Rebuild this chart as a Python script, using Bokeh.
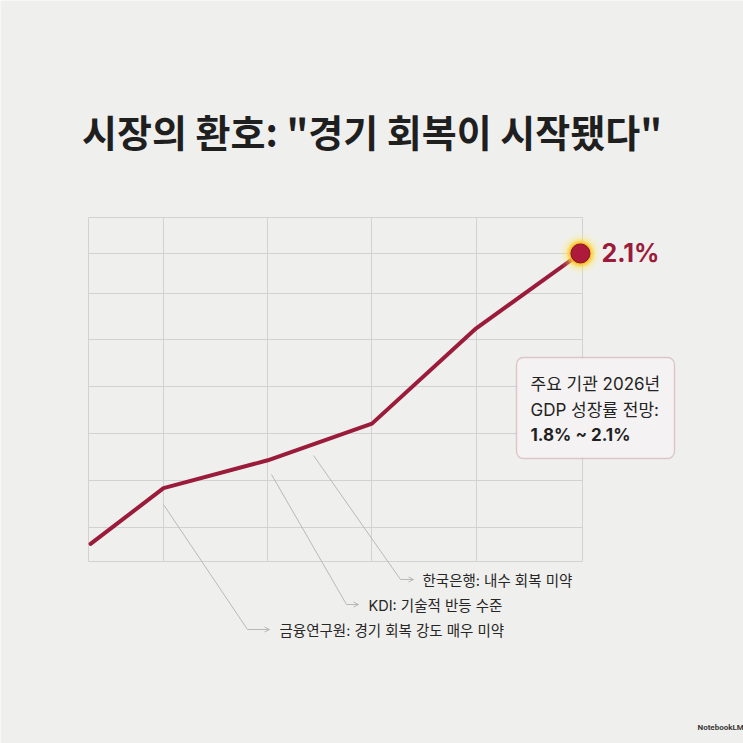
from bokeh.plotting import figure
from bokeh.models import Grid, FixedTicker, BoxAnnotation, Arrow, OpenHead, Range1d
from bokeh.core.properties import value
from bokeh.embed import file_html
from bokeh.resources import INLINE

# ---------------- data ----------------
title_text = '시장의 환호: "경기 회복이 시작됐다"'
x_pos = [0.0, 0.7, 1.7, 2.7, 3.7, 4.7]
growth = [0.12, 0.50, 0.69, 0.94, 1.59, 2.10]
x_grid = [-0.02, 0.7, 1.7, 2.7, 3.7, 4.72]
y_grid = [0.0, 0.23, 0.55, 0.87, 1.19, 1.51, 1.83, 2.10, 2.345]
end_label = "2.1%"
box_lines = ["주요 기관 2026년", "GDP 성장률 전망:", "1.8% ~ 2.1%"]
callout_labels = ["한국은행: 내수 회복 미약", "KDI: 기술적 반등 수준", "금융연구원: 경기 회복 강도 매우 미약"]
watermark = "NotebookLM"

# ---------------- layout / style ----------------
W = H = 743
FL, FR, FT, FB = 88, 582, 217, 561          # pixel box of the gridded area
BG = "#efefed"
GRID = "#d2d2d2"
LINE = "#9b1b3b"
DOT = "#ad1a3c"
FONT = value("Noto Sans CJK KR")
MIXED = value("Inter, 'Noto Sans CJK KR'")

X_LO, X_HI = x_grid[0], x_grid[-1]
Y_LO, Y_HI = y_grid[0], y_grid[-1]
sx = (FR - FL) / (X_HI - X_LO)
sy = (FB - FT) / (Y_HI - Y_LO)
x_start = X_LO - FL / sx
x_end = X_HI + (W - FR) / sx
y_end = Y_HI + FT / sy
y_start = Y_LO - (H - FB) / sy


def dx(px):
    return x_start + px / sx


def dy(py):
    return y_end - py / sy


p = figure(width=W, height=H, x_range=Range1d(x_start, x_end), y_range=Range1d(y_start, y_end),
           x_axis_location=None, y_axis_location=None, min_border=0,
           toolbar_location=None, output_backend="svg",
           background_fill_color=BG, border_fill_color=BG, outline_line_color=None)
p.grid.grid_line_color = None

# grid box
xg = Grid(dimension=0, ticker=FixedTicker(ticks=x_grid), grid_line_color=GRID, grid_line_width=1)
yg = Grid(dimension=1, ticker=FixedTicker(ticks=y_grid), grid_line_color=GRID, grid_line_width=1)
if "cross_bounds" in xg.properties():
    xg.cross_bounds = (Y_LO, Y_HI)
    yg.cross_bounds = (X_LO, X_HI)
    p.add_layout(xg, "center")
    p.add_layout(yg, "center")
else:
    p.segment(x0=x_grid, y0=[Y_LO] * len(x_grid), x1=x_grid, y1=[Y_HI] * len(x_grid),
              line_color=GRID, line_width=1)
    p.segment(x0=[X_LO] * len(y_grid), y0=y_grid, x1=[X_HI] * len(y_grid), y1=y_grid,
              line_color=GRID, line_width=1)

# annotation box (above grid, below texts)
box = BoxAnnotation(left=dx(516), right=dx(674), top=dy(357), bottom=dy(458),
                    fill_color="#f4f2f2", fill_alpha=1.0, line_color="#b06676",
                    line_width=1.4, level="underlay")
if "border_radius" in box.properties():
    box.border_radius = 7
p.add_layout(box, "center")

# main line
p.line(x_pos, growth, line_color=LINE, line_width=4, line_join="round", line_cap="round")

# glow + end dot
glow_sizes = [42, 36, 30, 26, 22]
glow_alpha = [0.10, 0.18, 0.30, 0.50, 0.85]
glow_cols = ["#fff3a0", "#ffe566", "#ffd93a", "#fcc923", "#f7b718"]
p.scatter([x_pos[-1]] * len(glow_sizes), [growth[-1]] * len(glow_sizes), size=glow_sizes,
          fill_color=glow_cols, fill_alpha=glow_alpha, line_color=None)
p.scatter([x_pos[-1]], [growth[-1]], size=19, fill_color=DOT, line_color="#8a1430", line_width=1)

p.text(x=[x_pos[-1]], y=[growth[-1]], text=[end_label], x_offset=21, text_font=MIXED,
       text_font_size="25px", text_font_style="bold", text_color=LINE,
       text_baseline="middle", text_align="left")

# title
p.text(x=[dx(371.5)], y=[dy(130)], text=[title_text], text_font=FONT, text_font_size="38px",
       text_font_style="bold", text_color="#1f1f1f", text_align="center", text_baseline="middle")

# box texts
p.text(x=[dx(530), dx(530)], y=[dy(383), dy(409)], text=box_lines[:2], text_font=MIXED,
       text_font_size="17px", text_color="#232323", text_baseline="middle", text_align="left")
p.text(x=[dx(530)], y=[dy(434)], text=box_lines[2:], text_font=MIXED, text_font_size="17px",
       text_font_style="bold", text_color="#1f1f1f", text_baseline="middle", text_align="left")

# callout leader lines
starts = [(313, 455), (271, 474), (163, 504)]
bends = [(400, 579), (346, 604), (247, 629)]
ends = [(413, 579), (358, 604), (269, 629)]
LEAD = "#b9b9b9"
p.multi_line(xs=[[dx(s[0]), dx(b[0])] for s, b in zip(starts, bends)],
             ys=[[dy(s[1]), dy(b[1])] for s, b in zip(starts, bends)],
             line_color=LEAD, line_width=1)
for b, e in zip(bends, ends):
    p.add_layout(Arrow(end=OpenHead(size=5, line_color=LEAD, line_width=1),
                       x_start=dx(b[0]), y_start=dy(b[1]), x_end=dx(e[0]), y_end=dy(e[1]),
                       line_color=LEAD, line_width=1))

p.text(x=[dx(422), dx(368), dx(279)], y=[dy(580), dy(605), dy(630)], text=callout_labels,
       text_font=MIXED, text_font_size="14.5px", text_color="#262626",
       text_baseline="middle", text_align="left")

# watermark
p.text(x=[dx(697)], y=[dy(727)], text=[watermark], text_font=value("Roboto"),
       text_font_size="8px", text_font_style="bold", text_color="#3a3a3a",
       text_baseline="middle", text_align="left")

open("out.html", "w").write(file_html(p, INLINE))
